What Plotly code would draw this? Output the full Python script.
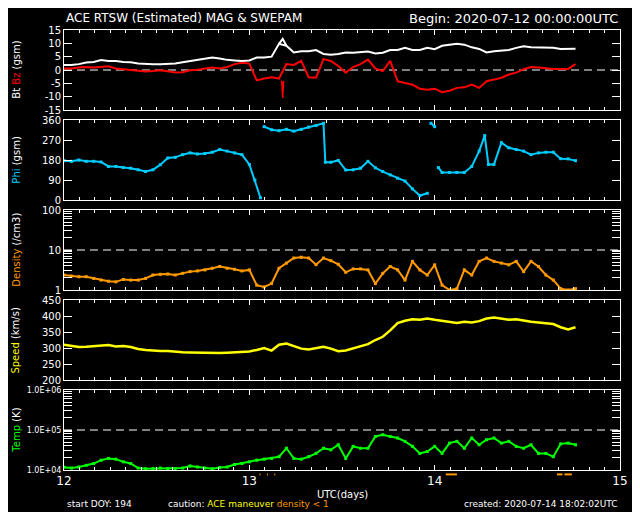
import plotly.graph_objects as go
from plotly.subplots import make_subplots

FONT = "DejaVu Sans"

# ---------------- data ----------------
days = [12.00, 12.04, 12.08, 12.12, 12.16, 12.20, 12.24, 12.28, 12.32, 12.36,
        12.40, 12.44, 12.48, 12.52, 12.56, 12.60, 12.64, 12.68, 12.72, 12.76,
        12.80, 12.84, 12.88, 12.92, 12.96,
        13.00, 13.04, 13.08, 13.12, 13.16, 13.20, 13.24, 13.28, 13.32, 13.36,
        13.40, 13.44, 13.48, 13.52, 13.56, 13.60, 13.64, 13.68, 13.72, 13.76,
        13.80, 13.84, 13.88, 13.92, 13.96,
        14.00, 14.04, 14.08, 14.12, 14.16, 14.20, 14.24, 14.28, 14.32, 14.36,
        14.40, 14.44, 14.48, 14.52, 14.56, 14.60, 14.64, 14.68, 14.72, 14.76]

bt_nt = [1.9, 1.9, 2.2, 2.8, 3.0, 3.7, 3.4, 3.4, 3.0, 2.9, 2.4, 2.2, 2.2, 2.2, 2.2,
         2.4, 2.9, 3.4, 3.9, 4.2, 4.7, 4.3, 3.8, 3.6, 3.4,
         3.6, 4.7, 4.7, 5.0, 9.8, 9.1, 6.6, 7.0, 7.0, 7.5, 6.0, 5.7, 6.0, 6.6, 6.5,
         6.6, 6.9, 6.2, 6.5, 7.5, 7.5, 8.3, 7.5, 7.5, 8.3,
         7.8, 9.1, 9.5, 9.8, 9.5, 8.5, 7.9, 6.6, 7.0, 7.2, 7.5, 8.3, 8.9, 8.5, 8.5,
         8.5, 8.3, 7.9, 7.9, 8.0]
bt_peak_days = [13.16, 13.18, 13.20]
bt_peak_nt = [9.8, 11.7, 9.1]

bz_nt = [0.6, 0.6, 0.9, 1.1, 0.9, 1.1, 1.4, 0.6, 0.3, -0.1, -0.5, -0.6, -0.4, -0.1,
         -0.5, -0.9, -0.8, -0.1, 0.1, 0.4, 0.9, 0.6, 1.1, 2.2, 2.7,
         2.4, -3.9, -3.2, -2.7, -3.2, 2.2, 1.9, 3.4, -2.7, -2.9, 4.1, 3.4, 1.5, -1.0,
         1.1, 2.2, 3.9, 0.6, -0.4, 3.4, -4.2, -4.8, -5.5, -7.0, -7.4,
         -7.0, -8.3, -7.8, -6.7, -6.5, -5.5, -6.7, -4.2, -3.6, -2.9, -1.7, -1.0, 0.3,
         1.1, 0.9, 0.6, 0.4, 0.4, 0.4, 2.2]
bz_spike_days = [13.175, 13.18, 13.185]
bz_spike_nt = [-4.0, -10.5, -4.0]

phi_days = [12.00, 12.04, 12.08, 12.12, 12.16, 12.20, 12.24, 12.28, 12.32, 12.36,
            12.40, 12.44, 12.48, 12.52, 12.56, 12.60, 12.64, 12.68, 12.72, 12.76,
            12.80, 12.84, 12.88, 12.92, 12.96, 13.00, 13.03, 13.06, 13.07,
            13.08, 13.12, 13.16, 13.20, 13.24, 13.28, 13.32, 13.36, 13.40,
            13.41, 13.44, 13.48, 13.52, 13.56, 13.60, 13.64, 13.68, 13.72, 13.76,
            13.80, 13.84, 13.88, 13.92, 13.96, 13.97, 13.98, 14.00, 14.01,
            14.02, 14.04, 14.08, 14.12, 14.16, 14.20, 14.24, 14.27, 14.29, 14.32,
            14.36, 14.40, 14.44, 14.48, 14.52, 14.56, 14.60, 14.64, 14.68, 14.72, 14.76]
phi_deg = [177, 174, 180, 174, 174, 171, 151, 151, 146, 143,
           136, 128, 136, 159, 189, 192, 204, 212, 207, 209,
           215, 227, 220, 212, 204, 160, 90, 10, None,
           330, 316, 312, 318, 310, 318, 328, 335, 345,
           170, 170, 178, 135, 136, 143, 174, 145, 128, 113,
           98, 85, 50, 20, 30, None, 345, 330, None,
           146, 124, 124, 124, 124, 151, 220, 290, 160, 160,
           258, 235, 227, 220, 204, 212, 215, 215, 186, 185, 177]

density_cm3 = [2.37, 2.23, 2.15, 2.15, 1.95, 1.77, 1.66, 1.60, 1.84, 1.77, 1.77, 1.95,
               2.37, 2.46, 2.51, 2.37, 2.61, 2.88, 3.0, 3.18, 3.5, 3.87, 3.5, 3.3, 3.0,
               3.18, 1.32, 1.19, 1.45, 3.5, 4.7, 6.3, 6.6, 6.3, 4.3, 6.3, 5.4, 4.4, 2.77,
               3.37, 3.37, 3.18, 1.45, 2.61, 3.87, 3.18, 1.77, 5.2, 3.18, 2.37,
               4.26, 1.32, 1.0, 1.08, 3.18, 2.37, 5.2, 6.3, 5.2, 4.7, 4.26, 5.2, 2.88,
               5.2, 3.87, 2.37, 1.77, 1.08, 1.0, 1.08]

speed_kms = [310, 306, 303, 304, 306, 309, 309, 305, 306, 303, 297, 294, 292, 291, 291,
             288, 287, 286, 285, 284, 283, 284, 285, 287, 287,
             289, 294, 300, 292, 310, 314, 305, 298, 295, 300, 304, 298, 290, 292, 298,
             305, 312, 325, 335, 355, 378, 385, 390, 388, 392,
             388, 384, 380, 378, 382, 380, 384, 392, 395, 392, 388, 390, 385, 382, 380,
             378, 375, 365, 358, 365]

temp_k = [1.17e4, 1.12e4, 1.19e4, 1.31e4, 1.45e4, 1.76e4, 1.95e4, 1.87e4, 1.6e4, 1.45e4,
          1.12e4, 1.08e4, 1.08e4, 1.12e4, 1.08e4, 1.08e4, 1.12e4, 1.26e4, 1.19e4, 1.12e4,
          1.08e4, 1.15e4, 1.19e4, 1.37e4, 1.45e4,
          1.6e4, 1.76e4, 1.87e4, 1.95e4, 2.15e4, 3.5e4, 1.95e4, 1.87e4, 2.15e4, 2.6e4,
          3.5e4, 3.2e4, 4.27e4, 1.95e4, 3.9e4, 3.5e4, 3.5e4, 6.9e4, 7.6e4, 6.9e4,
          6.3e4, 5.2e4, 3.9e4, 2.6e4, 2.9e4,
          3.9e4, 2.6e4, 4.7e4, 5.2e4, 3.5e4, 6.3e4, 4.27e4, 5.7e4, 6.3e4, 4.7e4,
          5.2e4, 3.9e4, 3.5e4, 4.27e4, 2.6e4, 2.6e4, 2.15e4, 4.5e4, 4.7e4, 4.27e4]

density_low_start = [13.055, 13.095, 13.135, 14.06, 14.66, 14.70]
density_low_end = [13.06, 13.10, 13.14, 14.12, 14.69, 14.74]

bz_ticks = [-15, -10, -5, 0, 5, 10, 15]
bz_ticktext = ["-15", "-10", "-5", "0", "5", "10", "15"]
phi_ticks = [0, 90, 180, 270, 360]
speed_ticks = [200, 250, 300, 350, 400, 450]
dens_ticks = [1, 10, 100]
dens_minor = [2, 3, 4, 5, 6, 7, 8, 9, 20, 30, 40, 50, 60, 70, 80, 90]
temp_ticks = [1e4, 1e5, 1e6]
temp_ticktext = ["1.0E+04", "1.0E+05", "1.0E+06"]
temp_minor = [2e4, 3e4, 4e4, 5e4, 6e4, 7e4, 8e4, 9e4, 2e5, 3e5, 4e5, 5e5, 6e5, 7e5, 8e5, 9e5]
x_ticks = [12, 13, 14, 15]

WHITE = "#ffffff"
RED = "#ff0000"
CYAN = "#00ccff"
ORANGE = "#ff9900"
YELLOW = "#ffff00"
GREEN = "#00ff00"

# ---------------- figure ----------------
fig = make_subplots(rows=5, cols=1, shared_xaxes=True, vertical_spacing=10 / 440)

def add_dash(row, y):
    fig.add_trace(go.Scatter(x=[12, 15], y=[y, y], mode="lines",
                             line=dict(color=WHITE, width=1, dash="8px,5px"),
                             hoverinfo="skip", showlegend=False), row=row, col=1)

add_dash(1, 0)
fig.add_trace(go.Scatter(x=days, y=bt_nt, mode="lines", line=dict(color=WHITE, width=2),
                         showlegend=False), row=1, col=1)
fig.add_trace(go.Scatter(x=bt_peak_days, y=bt_peak_nt, mode="lines", line=dict(color=WHITE, width=2),
                         showlegend=False), row=1, col=1)
fig.add_trace(go.Scatter(x=days, y=bz_nt, mode="lines", line=dict(color=RED, width=2),
                         showlegend=False), row=1, col=1)
fig.add_trace(go.Scatter(x=bz_spike_days, y=bz_spike_nt, mode="lines", line=dict(color=RED, width=1.5),
                         showlegend=False), row=1, col=1)

fig.add_trace(go.Scatter(x=phi_days, y=phi_deg, mode="lines+markers", connectgaps=False,
                         line=dict(color=CYAN, width=2), marker=dict(color=CYAN, size=3, symbol="square"),
                         showlegend=False), row=2, col=1)

add_dash(3, 10)
fig.add_trace(go.Scatter(x=days, y=density_cm3, mode="lines+markers", line=dict(color=ORANGE, width=2),
                         marker=dict(color=ORANGE, size=3, symbol="square"),
                         showlegend=False), row=3, col=1)

fig.add_trace(go.Scatter(x=days, y=speed_kms, mode="lines", line=dict(color=YELLOW, width=2.5),
                         showlegend=False), row=4, col=1)

add_dash(5, 1e5)
fig.add_trace(go.Scatter(x=days, y=temp_k, mode="lines+markers", line=dict(color=GREEN, width=2),
                         marker=dict(color=GREEN, size=3, symbol="square"),
                         showlegend=False), row=5, col=1)

# axes
tickfont = dict(family=FONT, size=10, color=WHITE)
for r in range(1, 6):
    fig.update_xaxes(row=r, col=1, range=[12, 15], tickvals=x_ticks, ticktext=["12", "13", "14", "15"],
                     showline=True, linecolor=WHITE, linewidth=1, mirror="ticks",
                     ticks="inside", ticklen=5, tickcolor=WHITE, tickwidth=1,
                     minor=dict(dtick=1 / 12, tick0=12, ticks="inside", ticklen=3, tickcolor=WHITE,
                                showgrid=False),
                     showgrid=False, zeroline=False, tickfont=dict(family=FONT, size=12, color=WHITE),
                     showticklabels=(r == 5))
    fig.update_yaxes(row=r, col=1, showline=True, linecolor=WHITE, linewidth=1, mirror="ticks",
                     ticks="inside", ticklen=8, tickcolor=WHITE, tickwidth=1,
                     showgrid=False, zeroline=False, tickfont=tickfont)

fig.update_yaxes(row=1, col=1, range=[-15, 15], tickvals=bz_ticks, ticktext=bz_ticktext)
fig.update_yaxes(row=2, col=1, range=[0, 360], tickvals=phi_ticks)
fig.update_yaxes(row=3, col=1, type="log", range=[0, 2], tickvals=dens_ticks,
                 ticktext=["1", "10", "100"],
                 minor=dict(tickvals=dens_minor, ticks="inside", ticklen=8, tickcolor=WHITE, showgrid=False))
fig.update_yaxes(row=4, col=1, range=[200, 450], tickvals=speed_ticks)
fig.update_yaxes(row=5, col=1, type="log", range=[4, 6], tickvals=temp_ticks, ticktext=temp_ticktext,
                 tickfont=dict(family=FONT, size=8, color=WHITE),
                 minor=dict(tickvals=temp_minor, ticks="inside", ticklen=8, tickcolor=WHITE, showgrid=False))

# density < 1 caution marks
for s, e in zip(density_low_start, density_low_end):
    fig.add_shape(type="line", xref="x5", yref="paper", x0=s, x1=e, y0=-0.01, y1=-0.01,
                  line=dict(color=ORANGE, width=2))

def ann(text, x, y, xanchor="left", size=12, angle=0, color=WHITE):
    fig.add_annotation(text=text, x=x, y=y, xref="paper", yref="paper", xanchor=xanchor,
                       yanchor="middle", showarrow=False, textangle=angle,
                       font=dict(family=FONT, size=size, color=color))

ann("ACE RTSW (Estimated) MAG &amp; SWEPAM", 0.0, 1.027, size=12)
ann("Begin: 2020-07-12 00:00:00UTC", 1.0, 1.027, xanchor="right", size=13)

ylab_x = -0.087
ann("Bt <span style='color:#ff0000'>Bz</span> (gsm)", ylab_x, 0.909, xanchor="center", size=10, angle=-90)
ann("<span style='color:#00ccff'>Phi</span> (gsm)", ylab_x, 0.7045, xanchor="center", size=10, angle=-90)
ann("<span style='color:#ff9900'>Density</span> (/cm3)", ylab_x, 0.5, xanchor="center", size=10, angle=-90)
ann("<span style='color:#ffff00'>Speed</span> (km/s)", ylab_x, 0.2955, xanchor="center", size=10, angle=-90)
ann("<span style='color:#00ff00'>Temp</span> (K)", ylab_x, 0.0909, xanchor="center", size=10, angle=-90)

ann("UTC(days)", 0.501, -0.0568, xanchor="center", size=10)
ann("start DOY: 194", 0.002, -0.0773, size=9)
ann("caution: <span style='color:#ffff00'>ACE maneuver</span> "
    "<span style='color:#ff9900'>density &lt; 1</span>", 0.183, -0.0773, size=9)
ann("created: 2020-07-14 18:02:02UTC", 1.0, -0.0773, xanchor="right", size=9)

# the page places the figure 8px right and 8px down, so shrink it by 8px and shift margins
fig.update_layout(width=632, height=504, margin=dict(l=56, r=13, t=22, b=42),
                  paper_bgcolor="black", plot_bgcolor="black", showlegend=False,
                  font=dict(family=FONT, color=WHITE))

fig.write_html("out.html")
